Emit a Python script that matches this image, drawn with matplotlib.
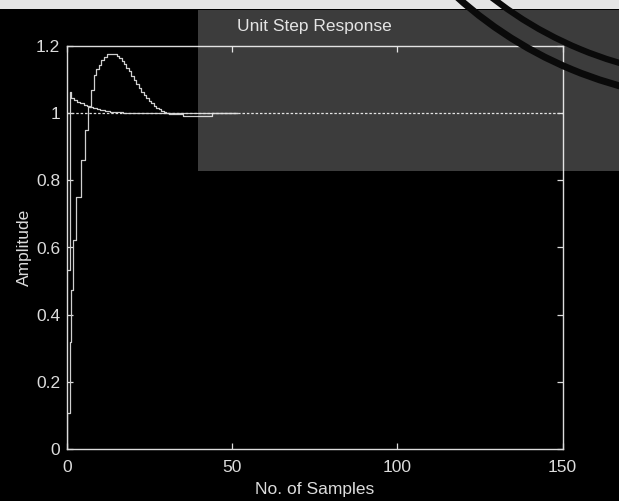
import numpy as np
import matplotlib
matplotlib.use("Agg")
import matplotlib.pyplot as plt
from matplotlib.patches import Rectangle, Arc

plt.rcParams['font.family'] = ['Liberation Sans', 'DejaVu Sans']

# Slower loop: step start (in samples) and held amplitude
t_slow = [0, 0.8, 1.3, 1.8, 2.8, 4.2, 5.6, 6.4, 7.4, 8.3, 8.9, 9.6, 10.4, 11.1,
          12.1, 15.0, 15.8, 16.5, 17.3, 18.0, 18.8, 19.5, 20.3, 21.0, 21.8,
          22.5, 23.3, 24.0, 24.8, 25.5, 26.3, 27.0, 27.8, 28.5, 29.3, 30.0,
          31.0, 35.0, 44.0, 51.5]
y_slow = [0.107, 0.319, 0.473, 0.622, 0.751, 0.860, 0.950, 1.019, 1.068, 1.113,
          1.133, 1.143, 1.158, 1.168, 1.175, 1.170, 1.163, 1.155, 1.145, 1.135,
          1.125, 1.112, 1.100, 1.088, 1.076, 1.064, 1.053, 1.044, 1.036, 1.029,
          1.022, 1.016, 1.011, 1.007, 1.004, 1.001, 0.998, 0.992, 1.000, 1.000]

# Faster loop
t_fast = [0, 0.8, 1.3, 2.0, 3.0, 4.0, 5.0, 6.0, 7.0, 8.0, 9.0, 10.0, 11.5,
          13.0, 15.0, 17.0, 20.0, 51.5]
y_fast = [0.533, 1.063, 1.045, 1.040, 1.034, 1.030, 1.025, 1.021, 1.018, 1.014,
          1.011, 1.009, 1.006, 1.004, 1.002, 1.001, 1.000, 1.000]

setpoint = 1.0
x_ticks = [0, 50, 100, 150]
y_ticks = [0, 0.2, 0.4, 0.6, 0.8, 1, 1.2]
y_tick_labels = ['0', '0.2', '0.4', '0.6', '0.8', '1', '1.2']

W, H = 619, 501
fig = plt.figure(figsize=(W / 100, H / 100), dpi=100, facecolor='black')

def fx(px):
    return px / W

def fy(py):
    return 1 - py / H

left, right, top, bottom = 67, 562.5, 46, 449
ax = fig.add_axes([fx(left), fy(bottom), fx(right) - fx(left), fy(top) - fy(bottom)])
ax.set_facecolor('black')

fg = '#dcdcdc'
line_c = '#cfcfcf'

ax.step(t_slow, y_slow, where='post', color=line_c, lw=0.9)
ax.step(t_fast, y_fast, where='post', color=line_c, lw=0.9)
ax.plot([0, 0], [0, y_slow[0]], color=line_c, lw=0.9)
ax.axhline(setpoint, color=fg, lw=0.9, ls=(0, (2, 1.5)))

ax.set_xlim(0, 150)
ax.set_ylim(0, 1.2)
ax.set_xticks(x_ticks)
ax.set_xticklabels([str(v) for v in x_ticks])
ax.set_yticks(y_ticks)
ax.set_yticklabels(y_tick_labels)
ax.tick_params(direction='in', length=4, width=0.9, colors=fg, labelsize=12.5,
               top=True, right=True, pad=5)
ax.tick_params(axis='x', pad=8)
for s in ax.spines.values():
    s.set_color(fg)
    s.set_linewidth(1.0)

ax.set_xlabel('No. of Samples', color=fg, fontsize=12.5, labelpad=5)
ax.set_ylabel('Amplitude', color=fg, fontsize=12.5, labelpad=3)
ax.set_title('Unit Step Response', color=fg, fontsize=12.5, pad=11)

# light highlight band over the upper right
fig.patches.append(Rectangle((fx(198), fy(171)), fx(619) - fx(198), fy(10) - fy(171),
                             transform=fig.transFigure, facecolor='white', alpha=0.24,
                             edgecolor='none', zorder=5))
# paper strip along the top edge
fig.patches.append(Rectangle((0, fy(9)), 1, fy(0) - fy(9), transform=fig.transFigure,
                             facecolor='#e4e4e4', edgecolor='none', zorder=6))

# stamp rings in the corner
ring_ax = fig.add_axes([0, 0, 1, 1], facecolor='none', zorder=10)
ring_ax.set_xlim(0, W)
ring_ax.set_ylim(H, 0)
ring_ax.axis('off')
for r, lw in [(400, 5), (378, 4.5)]:
    ring_ax.add_patch(Arc((725, -300), 2 * r, 2 * r, color='#0a0a0a', lw=lw))

fig.savefig('out.png', dpi=100, facecolor='black')
